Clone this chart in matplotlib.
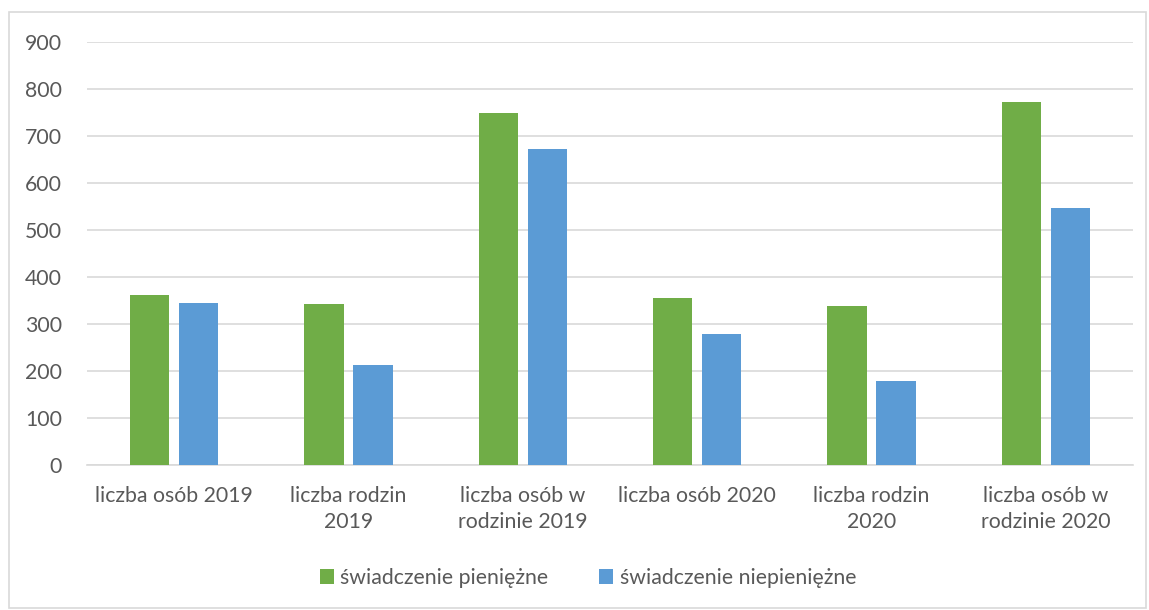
import matplotlib.pyplot as plt
import matplotlib.patches as patches
import numpy as np

categories = ['liczba osób 2019', 'liczba rodzin\n2019', 'liczba osób w\nrodzinie 2019',
              'liczba osób 2020', 'liczba rodzin\n2020', 'liczba osób w\nrodzinie 2020']
pieniezne = [361, 342, 750, 355, 339, 772]
niepieniezne = [345, 213, 672, 278, 179, 547]
series_names = ['świadczenie pieniężne', 'świadczenie niepieniężne']

plt.rcParams['font.family'] = ['Lato', 'DejaVu Sans']
text_color = '#595959'
fs = 15.3

fig = plt.figure(figsize=(11.49, 6.10), dpi=100)
W, H = 1149, 610
# plot area in pixels: left 87, right 1133, top 42, bottom 465
ax = fig.add_axes([87 / W, 1 - 465 / H, (1133 - 87) / W, (465 - 42) / H])

x = np.arange(len(categories))
w = 0.225
off = 0.141
ax.bar(x - off, pieniezne, width=w, color='#70AD47', label=series_names[0], zorder=3)
ax.bar(x + off, niepieniezne, width=w, color='#5B9BD5', label=series_names[1], zorder=3)

ax.set_xlim(-0.5, len(categories) - 0.5)
ax.set_ylim(0, 900)
ax.set_yticks(range(0, 901, 100))
ax.yaxis.grid(True, color='#D9D9D9', linewidth=1.2, zorder=0)
ax.set_xticks(x)
ax.set_xticklabels(categories, fontsize=fs, color=text_color, linespacing=1.4)
ax.tick_params(axis='y', labelsize=fs, labelcolor=text_color, length=0, pad=18)
ax.tick_params(axis='x', length=0, pad=15)
for s in ['top', 'right', 'left']:
    ax.spines[s].set_visible(False)
ax.spines['bottom'].set_color('#D9D9D9')
ax.spines['bottom'].set_linewidth(1.2)

leg = fig.legend(loc='center', bbox_to_anchor=(588 / W, 1 - 578 / H), ncol=2, frameon=False,
                 fontsize=fs, handlelength=0.65, handleheight=0.65, handletextpad=0.3,
                 columnspacing=2.4)
for t in leg.get_texts():
    t.set_color(text_color)

fig.patches.append(patches.Rectangle((9 / W, 1 - 608 / H), (1146 - 9) / W, (608 - 12) / H,
                                     transform=fig.transFigure, fill=False,
                                     edgecolor='#D9D9D9', linewidth=1.2))

fig.savefig('out.png', dpi=100)
